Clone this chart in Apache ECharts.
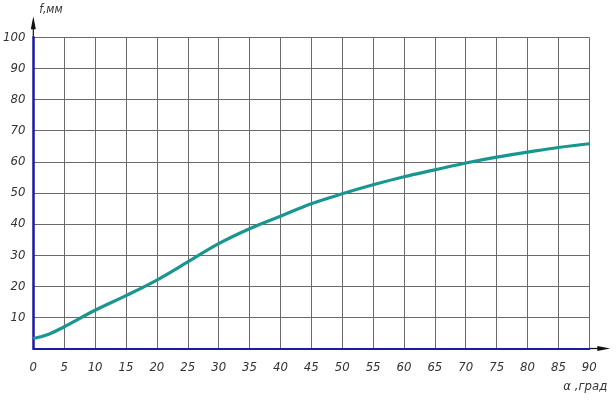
<!DOCTYPE html>
<html><head><meta charset="utf-8">
<script src="https://cdn.jsdelivr.net/npm/echarts@6/dist/echarts.min.js"></script>
<style>html,body{margin:0;padding:0;background:#fff}#c{width:616px;height:401px}</style>
</head><body><div id="c"></div>
<script>
const angles = [0, 2.5, 5, 10, 15, 20, 25, 30, 35, 40, 45, 50, 55, 60, 65, 70, 75, 80, 85, 90];
const deflection = [3.2, 4.6, 7.0, 12.3, 17.0, 22.0, 27.8, 33.7, 38.5, 42.5, 46.5, 49.7, 52.6, 55.2, 57.4, 59.6, 61.5, 63.1, 64.6, 65.8];
const xTicks = [0, 5, 10, 15, 20, 25, 30, 35, 40, 45, 50, 55, 60, 65, 70, 75, 80, 85, 90];
const yTicks = [10, 20, 30, 40, 50, 60, 70, 80, 90, 100];
const xName = 'α ,град';
const yName = 'f,мм';

const font = '"DejaVu Sans Condensed", "Liberation Sans", sans-serif';
const chart = echarts.init(document.getElementById('c'));
const lblStyle = {fontFamily: font, fontStyle: 'italic', fontWeight: 'normal', fontSize: 13, color: '#333'};
chart.setOption({
  animation: false,
  grid: {left: 29.3, right: 26.7, top: 37.3, bottom: 52.5, containLabel: false},
  xAxis: {
    type: 'value', min: 0, max: 90, interval: 5,
    axisLine: {show: true, onZero: false, lineStyle: {color: '#1a1aa8', width: 2}},
    axisTick: {show: false},
    splitLine: {show: true, lineStyle: {color: '#6a6a6a', width: 1}},
    axisLabel: Object.assign({margin: 13, formatter: v => xTicks.includes(v) ? String(v) : ''}, lblStyle)
  },
  yAxis: {
    type: 'value', min: 0, max: 100, interval: 10,
    axisLine: {show: true, onZero: false, lineStyle: {color: '#1a1aa8', width: 2.5}},
    axisTick: {show: false},
    splitLine: {show: true, lineStyle: {color: '#6a6a6a', width: 1}},
    axisLabel: Object.assign({margin: 8, formatter: v => yTicks.includes(v) ? String(v) : ''}, lblStyle)
  },
  series: [{
    type: 'line', smooth: 0.4, symbol: 'none',
    lineStyle: {color: '#1a9690', width: 3.2},
    data: angles.map((a, i) => [a, deflection[i]])
  }]
});

const pEnd = chart.convertToPixel({gridIndex: 0}, [90, 0]);
const pTop = chart.convertToPixel({gridIndex: 0}, [0, 100]);
chart.setOption({
  graphic: [
    {type: 'line', shape: {x1: pEnd[0], y1: pEnd[1], x2: pEnd[0] + 14, y2: pEnd[1]}, style: {stroke: '#111', lineWidth: 1.2}},
    {type: 'polygon', shape: {points: [[pEnd[0] + 8, pEnd[1] - 2.5], [pEnd[0] + 21, pEnd[1]], [pEnd[0] + 8, pEnd[1] + 2.5]]}, style: {fill: '#111'}},
    {type: 'line', shape: {x1: pTop[0], y1: pTop[1], x2: pTop[0], y2: pTop[1] - 14}, style: {stroke: '#111', lineWidth: 1.2}},
    {type: 'polygon', shape: {points: [[pTop[0] - 2.5, pTop[1] - 8], [pTop[0], pTop[1] - 21], [pTop[0] + 2.5, pTop[1] - 8]]}, style: {fill: '#111'}},
    {type: 'text', x: pTop[0] + 6, y: pTop[1] - 33, style: {text: yName, font: 'italic 12px ' + font, fill: '#333'}},
    {type: 'text', x: pEnd[0] - 26, y: pEnd[1] + 32, style: {text: xName, font: 'italic 13px ' + font, fill: '#333'}}
  ]
});
</script></body></html>
